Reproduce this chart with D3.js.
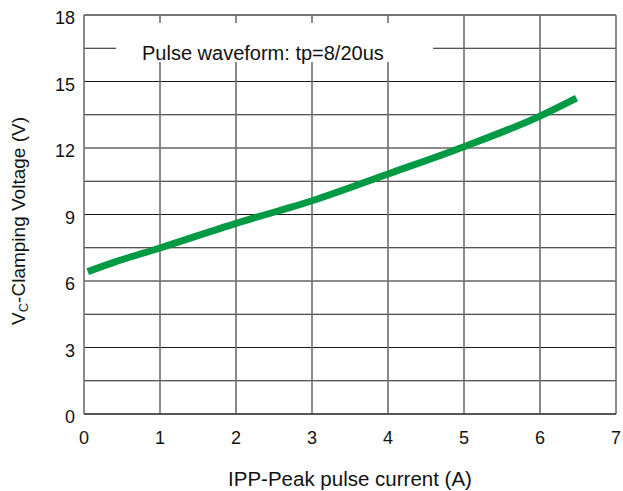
<!DOCTYPE html>
<html>
<head>
<meta charset="utf-8">
<script src="https://cdn.jsdelivr.net/npm/d3@7"></script>
<style>
  body { margin: 0; background: #fff; }
  text { font-family: "Liberation Sans", Arial, sans-serif; fill: #111; }
</style>
</head>
<body>
<svg width="623" height="491"></svg>
<script>
// data
let current = [0.05, 0.4, 1, 2, 3, 4, 5, 6, 6.48];
let voltage = [6.42, 6.85, 7.49, 8.6, 9.62, 10.83, 12.06, 13.44, 14.25];
let xTicks = [0, 1, 2, 3, 4, 5, 6, 7];
let yTicks = [0, 3, 6, 9, 12, 15, 18];
let yGrid = [0, 1.5, 3, 4.5, 6, 7.5, 9, 10.5, 12, 13.5, 15, 16.5, 18];
let note = 'Pulse waveform: tp=8/20us';

document.addEventListener('DOMContentLoaded', function() {
    let svg = d3.select('svg');

    let left = 84, right = 616, top = 15, bottom = 414;

    let x = d3.scaleLinear().domain([0, 7]).range([left, right]);
    let y = d3.scaleLinear().domain([0, 18]).range([bottom, top]);

    // horizontal grid (every 1.5 V)
    svg.append('g').attr('class', 'hgrid')
        .selectAll('line')
        .data(yGrid)
        .join('line')
        .attr('x1', left).attr('x2', right)
        .attr('y1', d => y(d)).attr('y2', d => y(d))
        .attr('stroke', '#1a1a1a')
        .attr('stroke-width', 1);

    // vertical grid
    svg.append('g').attr('class', 'vgrid')
        .selectAll('line')
        .data(xTicks)
        .join('line')
        .attr('x1', d => x(d)).attr('x2', d => x(d))
        .attr('y1', top).attr('y2', bottom)
        .attr('stroke', '#6e6e6e')
        .attr('stroke-width', 1.6);

    // top / bottom border
    svg.append('line')
        .attr('x1', left).attr('x2', right)
        .attr('y1', top).attr('y2', top)
        .attr('stroke', '#6e6e6e').attr('stroke-width', 1.6);
    svg.append('line')
        .attr('x1', left).attr('x2', right)
        .attr('y1', bottom).attr('y2', bottom)
        .attr('stroke', '#444').attr('stroke-width', 1.3);

    // label box knocks out the grid behind it
    svg.append('rect')
        .attr('x', 116).attr('y', 23)
        .attr('width', 433 - 116).attr('height', 62 - 23)
        .attr('fill', '#fff');

    svg.append('text')
        .attr('x', 142).attr('y', 60)
        .attr('font-size', 20)
        .text(note);

    // curve
    let line = d3.line()
        .x((d, i) => x(current[i]))
        .y(d => y(d))
        .curve(d3.curveMonotoneX);

    svg.append('path')
        .datum(voltage)
        .attr('d', line)
        .attr('fill', 'none')
        .attr('stroke', '#009a44')
        .attr('stroke-width', 7);

    // tick labels
    svg.append('g').attr('class', 'ylabels')
        .selectAll('text')
        .data(yTicks)
        .join('text')
        .attr('x', left - 9)
        .attr('y', d => y(d) + 9)
        .attr('text-anchor', 'end')
        .attr('font-size', 18)
        .text(d => d);

    svg.append('g').attr('class', 'xlabels')
        .selectAll('text')
        .data(xTicks)
        .join('text')
        .attr('x', d => x(d))
        .attr('y', 444)
        .attr('text-anchor', 'middle')
        .attr('font-size', 18)
        .text(d => d);

    // axis titles
    svg.append('text')
        .attr('x', 350).attr('y', 486)
        .attr('text-anchor', 'middle')
        .attr('font-size', 20.5)
        .text('IPP-Peak pulse current (A)');

    let yt = svg.append('text')
        .attr('transform', 'translate(25,221) rotate(-90)')
        .attr('text-anchor', 'middle')
        .attr('font-size', 19);
    yt.append('tspan').text('V');
    yt.append('tspan').attr('font-size', 13).attr('dy', 3).text('C');
    yt.append('tspan').attr('dy', -3).text('-Clamping Voltage (V)');
});
</script>
</body>
</html>
